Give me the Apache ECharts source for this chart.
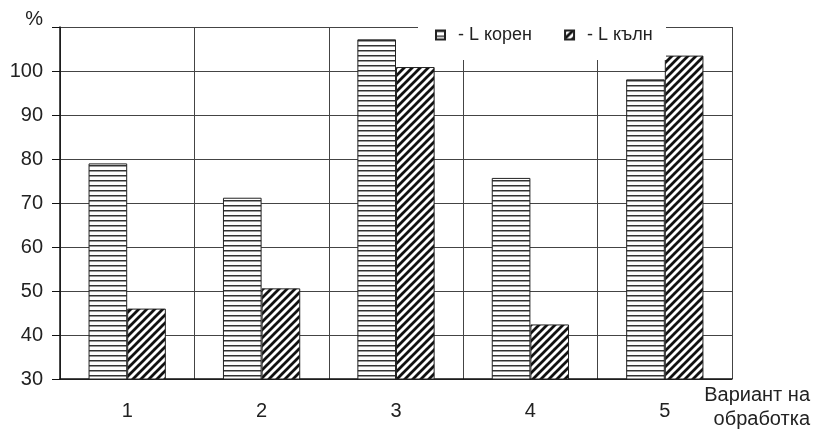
<!DOCTYPE html>
<html>
<head>
<meta charset="utf-8">
<script src="https://cdn.jsdelivr.net/npm/echarts@6/dist/echarts.min.js"></script>
<style>html,body{margin:0;padding:0;background:#fff;}#c{width:814px;height:433px;}</style>
</head>
<body>
<div id="c"></div>
<script>
const categories = ['1', '2', '3', '4', '5'];
const seriesNames = ['- L корен', '- L кълн'];
const korenValues = [79.0, 71.2, 107.2, 75.7, 98.1];
const kalnValues = [46.0, 50.6, 100.9, 42.4, 103.5];
const yTop = 110;

function hPattern() {
  const c = document.createElement('canvas');
  c.width = 8; c.height = 5;
  const ctx = c.getContext('2d');
  ctx.fillStyle = '#fff'; ctx.fillRect(0, 0, 8, 5);
  ctx.fillStyle = '#333'; ctx.fillRect(0, 0, 8, 1);
  ctx.fillStyle = '#999'; ctx.fillRect(0, 1, 8, 1);
  return c;
}
function dPattern() {
  const c = document.createElement('canvas');
  c.width = 8; c.height = 8;
  const ctx = c.getContext('2d');
  ctx.fillStyle = '#fff'; ctx.fillRect(0, 0, 8, 8);
  ctx.strokeStyle = '#111'; ctx.lineWidth = 2.8;
  ctx.beginPath();
  ctx.moveTo(-2, 2); ctx.lineTo(2, -2);
  ctx.moveTo(-1, 9); ctx.lineTo(9, -1);
  ctx.moveTo(6, 10); ctx.lineTo(10, 6);
  ctx.stroke();
  return c;
}

const chart = echarts.init(document.getElementById('c'), null, {renderer: 'canvas'});
const font = 'Liberation Sans, Arial, sans-serif';
chart.setOption({
  animation: false,
  backgroundColor: '#fff',
  textStyle: {fontFamily: font},
  grid: {left: 60, right: 82, top: 27, bottom: 54},
  legend: {
    data: seriesNames,
    icon: 'rect',
    left: 435, top: 26, padding: 0,
    itemWidth: 9, itemHeight: 9, itemGap: 32,
    textStyle: {fontSize: 18, color: '#222', fontFamily: font, padding: [0, 0, 0, 8]},
    z: 120
  },
  graphic: [{
    type: 'rect', z: 100,
    shape: {x: 418, y: 18, width: 248, height: 42},
    style: {fill: '#fff'}
  }],
  xAxis: {
    type: 'category', data: categories, boundaryGap: true,
    axisLine: {lineStyle: {color: '#111', width: 1.5}},
    axisTick: {length: 6, lineStyle: {color: '#111'}},
    axisLabel: {margin: 22, fontSize: 20, color: '#222', fontFamily: font},
    splitLine: {show: true, lineStyle: {color: '#444', width: 1}},
    name: 'Вариант на\nобработка', nameLocation: 'end', nameGap: 78,
    nameTextStyle: {align: 'right', verticalAlign: 'top', fontSize: 20, lineHeight: 24,
      padding: [4, 0, 0, 0], color: '#222', fontFamily: font}
  },
  yAxis: {
    type: 'value', min: 30, max: yTop, interval: 10,
    axisLine: {show: true, lineStyle: {color: '#111', width: 1.5}},
    axisTick: {show: true, length: 8, lineStyle: {color: '#111'}},
    axisLabel: {
      margin: 17, fontSize: 20, color: '#222', fontFamily: font,
      formatter: v => v === yTop ? '{p|%}' : String(v),
      rich: {p: {fontSize: 20, color: '#222', fontFamily: font, padding: [0, 0, 16, 0]}}
    },
    splitLine: {show: true, lineStyle: {color: '#444', width: 1}}
  },
  series: [
    {name: seriesNames[0], type: 'bar', data: korenValues, barGap: '0%', barCategoryGap: '42.5%',
     itemStyle: {color: {image: hPattern(), repeat: 'repeat'}, borderColor: '#222', borderWidth: 1}},
    {name: seriesNames[1], type: 'bar', data: kalnValues, barGap: '0%', barCategoryGap: '42.5%',
     itemStyle: {color: {image: dPattern(), repeat: 'repeat'}, borderColor: '#222', borderWidth: 1}}
  ]
});
</script>
</body>
</html>
